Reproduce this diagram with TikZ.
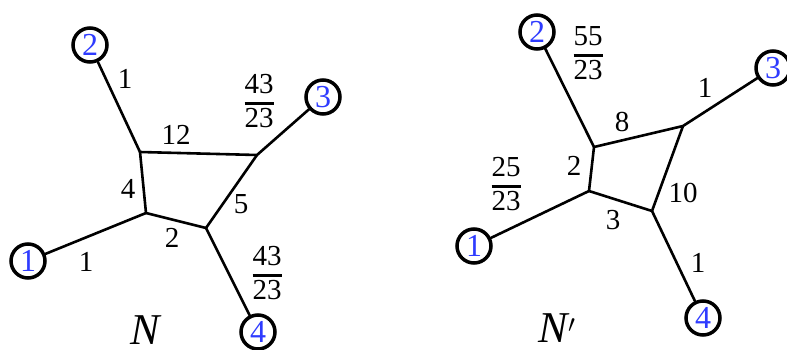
\documentclass[tikz,border=0pt]{standalone}
\usepackage{fontspec}
\setmainfont{Liberation Serif}
\usetikzlibrary{positioning}
\definecolor{leafblue}{HTML}{2E3BFF}
\newcommand{\wfrac}[2]{{\setlength{\arrayrulewidth}{2.8pt}\renewcommand{\arraystretch}{0.9}%
  \begin{tabular}{@{}c@{}}#1\\\hline\rule{0pt}{0.78em}#2\end{tabular}}}
\tikzset{
  leaf/.style  ={circle, draw=black, line width=3.5pt, minimum size=34pt, inner sep=0pt,
                 text=leafblue, font=\fontsize{32}{32}\selectfont},
  edge/.style  ={line width=2.6pt, line cap=round, line join=round},
  wlabel/.style={font=\fontsize{29}{30}\selectfont, inner sep=0pt},
  netname/.style={font=\fontsize{44}{44}\selectfont\itshape, inner sep=0pt, anchor=base},
}
\begin{document}
\begin{tikzpicture}[x=1pt,y=-1pt]
  \useasboundingbox (0,0) rectangle (787,350);
  % --- network N ---
  \node[leaf] (l1) at (28,261) {1};
  \node[leaf] (l2) at (90,45) {2};
  \node[leaf] (l3) at (323,97) {3};
  \node[leaf] (l4) at (258,332) {4};
  \coordinate (a) at (140,152);
  \coordinate (b) at (257,155);
  \coordinate (c) at (146,213);
  \coordinate (d) at (206,228);
  \draw[edge] (l2) -- (a) -- (b) -- (l3);
  \draw[edge] (a) -- (c) -- (d) -- (b);
  \draw[edge] (l1) -- (c);
  \draw[edge] (d) -- (l4);
  \node[wlabel] (w2) at (125,79) {1};
  \node[wlabel] (w3) at (259,105) {\wfrac{43}{23}};
  \node[wlabel] (wab) at (176,135) {12};
  \node[wlabel] (wac) at (128,189) {4};
  \node[wlabel] (wbd) at (241,204) {5};
  \node[wlabel] (wcd) at (172,238) {2};
  \node[wlabel] (w1) at (86,262) {1};
  \node[wlabel] (w4) at (267,277) {\wfrac{43}{23}};
  \node[netname] (nN) at (145,344) {N};
  % --- network N' ---
  \node[leaf] (m1) at (474,246) {1};
  \node[leaf] (m2) at (537,32) {2};
  \node[leaf] (m3) at (773,68) {3};
  \node[leaf] (m4) at (703,318) {4};
  \coordinate (p) at (594,147);
  \coordinate (q) at (683,126);
  \coordinate (r) at (589,191);
  \coordinate (s) at (652,211);
  \draw[edge] (m2) -- (p) -- (q) -- (m3);
  \draw[edge] (p) -- (r) -- (s) -- (q);
  \draw[edge] (m1) -- (r);
  \draw[edge] (s) -- (m4);
  \node[wlabel] (v2) at (588,57) {\wfrac{55}{23}};
  \node[wlabel] (v3) at (705,88) {1};
  \node[wlabel] (vpq) at (622,122) {8};
  \node[wlabel] (vpr) at (574,166) {2};
  \node[wlabel] (v1) at (506,188) {\wfrac{25}{23}};
  \node[wlabel] (vqs) at (683,193) {10};
  \node[wlabel] (vrs) at (613,220) {3};
  \node[wlabel] (v4) at (698,263) {1};
  \node[netname] (nM) at (557,342) {N$'$};
\end{tikzpicture}
\end{document}
